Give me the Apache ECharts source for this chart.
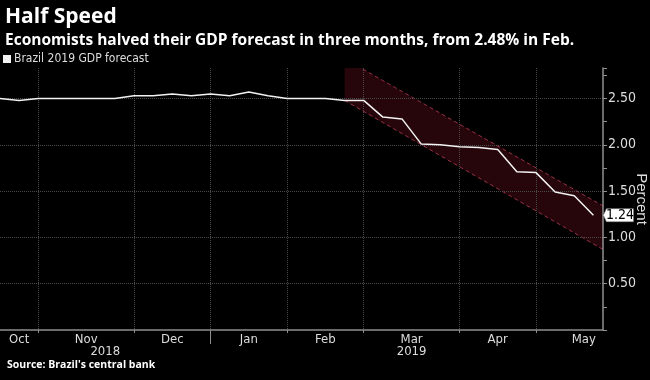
<!DOCTYPE html>
<html><head><meta charset="utf-8">
<script src="https://cdn.jsdelivr.net/npm/echarts@6/dist/echarts.min.js"></script>
<style>html,body{margin:0;padding:0;background:#000}#c{width:650px;height:380px}</style>
</head><body><div id="c"></div>
<script>
// Weekly survey dates (Fridays) and Brazil 2019 GDP forecast (%)
const weeks = ['2018-10-19','2018-10-26','2018-11-02','2018-11-09','2018-11-16','2018-11-23','2018-11-30',
  '2018-12-07','2018-12-14','2018-12-21','2018-12-28','2019-01-04','2019-01-11','2019-01-18','2019-01-25',
  '2019-02-01','2019-02-08','2019-02-15','2019-02-22','2019-03-01','2019-03-08','2019-03-15','2019-03-22','2019-03-29',
  '2019-04-05','2019-04-12','2019-04-19','2019-04-26','2019-05-03','2019-05-10','2019-05-17','2019-05-24'];
const forecast = [2.50,2.48,2.50,2.50,2.50,2.50,2.50,
  2.53,2.53,2.55,2.53,2.55,2.53,2.57,2.53,
  2.50,2.50,2.50,2.48,2.48,2.30,2.28,2.01,2.00,
  1.98,1.97,1.95,1.71,1.70,1.49,1.45,1.24];
// Month labels: first week index of each month and number of weekly points
const months = ['Oct','Nov','Dec','Jan','Feb','Mar','Apr','May'];
const monthStartWeek = [-2,2,7,11,15,19,24,28];
const monthWeekCount = [4,5,4,4,4,5,4,5];
const years = ['2018','2019'];
const yearStartWeek = [0,11];
const yearEndWeek = [11,31.5];
// Shaded downtrend channel: start/end week, lower and upper bounds
const bandWeeks = [18, 31.5];
const bandLower = [2.48, 0.87];
const bandUpper = [2.93, 1.34];
const lastValueLabel = '1.24';

const axisExtentWeeks = 31.5;
const nSlots = axisExtentWeeks * 2 + 1;
const slots = [];
for (let i = 0; i < nSlots; i++) slots.push(weeks[Math.floor(i/2)] + (i % 2 ? ' (mid)' : ''));

const boundarySlots = new Set(monthStartWeek.filter(w => w > 0).map(w => w*2));
const monthLabelAt = new Map();
months.forEach((m, k) => monthLabelAt.set(Math.max(2*monthStartWeek[k] + monthWeekCount[k], 2), m));
const yearLabelAt = new Map();
years.forEach((y, k) => yearLabelAt.set(Math.round(yearStartWeek[k] + yearEndWeek[k]), y));
const yearSepSlot = yearStartWeek[1]*2;

const gray = '#8f8f8f';
const grid = '#4a4a4a';
const narrow = "'Liberation Sans Narrow','DejaVu Sans Condensed','Roboto',sans-serif";
const lastIdx = forecast.length - 1;

const chart = echarts.init(document.getElementById('c'), null, {renderer:'canvas'});
chart.setOption({
  backgroundColor:'#000',
  animation:false,
  title:[
    {text:'Half Speed', left:0, top:2, textStyle:{color:'#fff', fontFamily:'Open Sans', fontWeight:'bold', fontSize:21}},
    {text:'Economists halved their GDP forecast in three months, from 2.48% in Feb.', left:0, top:28,
      textStyle:{color:'#fff', fontFamily:'Open Sans', fontWeight:'bold', fontSize:15.5}},
    {text:"Source: Brazil's central bank", left:2, top:355, textStyle:{color:'#fff', fontFamily:'Open Sans', fontWeight:'bold', fontSize:10.5}}
  ],
  legend:{data:[{name:'Brazil 2019 GDP forecast', icon:'rect'}], left:3, top:53, itemWidth:8, itemHeight:8, itemGap:4, padding:0,
    textStyle:{color:'#ddd', fontFamily:narrow, fontSize:12, padding:[0,0,0,-2]}},
  grid:{left:0, right:47, top:68, bottom:50, containLabel:false, outerBoundsMode:'none'},
  xAxis:[
    {type:'category', data:slots, boundaryGap:false, position:'bottom',
     axisLine:{show:true, onZero:false, lineStyle:{color:gray, width:1.5}},
     axisTick:{show:true, interval:(i)=>boundarySlots.has(i), length:3, lineStyle:{color:gray}},
     axisLabel:{interval:(i)=>monthLabelAt.has(i), formatter:(v,i)=>monthLabelAt.get(i)||'', color:'#ddd', fontFamily:narrow, fontSize:13, margin:3},
     splitLine:{show:true, interval:(i)=>boundarySlots.has(i), lineStyle:{type:'dotted', color:grid}}},
    {type:'category', data:slots, boundaryGap:false, position:'bottom', offset:14,
     axisLine:{show:false},
     axisTick:{show:true, interval:(i)=>i===yearSepSlot, length:14, lineStyle:{color:gray}},
     axisLabel:{interval:(i)=>yearLabelAt.has(i), formatter:(v,i)=>yearLabelAt.get(i)||'', color:'#ddd', fontFamily:narrow, fontSize:13, margin:1},
     splitLine:{show:false}}
  ],
  yAxis:[
    {type:'value', position:'right', min:0, max:2.83, interval:0.5,
     axisLine:{show:true, lineStyle:{color:gray, width:1.5}},
     axisTick:{show:true, length:4, lineStyle:{color:gray}},
     axisLabel:{color:'#ddd', fontFamily:narrow, fontSize:14, margin:5, showMaxLabel:false,
       formatter:(v)=> (v===0 || Math.abs(v*2-Math.round(v*2))>1e-6) ? '' : v.toFixed(2)},
     splitLine:{show:true, showMaxLine:false, showMinLine:false, lineStyle:{type:'dotted', color:grid}},
     name:'Percent', nameLocation:'middle', nameRotate:-90, nameGap:31, nameMoveOverlap:false,
     nameTextStyle:{color:'#ddd', fontFamily:'Liberation Sans', fontSize:15}},
    {type:'value', position:'right', min:0, max:2.83, interval:0.25,
     axisLine:{show:false}, axisLabel:{show:false}, splitLine:{show:false},
     axisTick:{show:true, length:4, lineStyle:{color:gray}}}
  ],
  series:[
    {type:'custom', name:'channel', xAxisIndex:0, yAxisIndex:0, z:-1, silent:true, clip:true,
     encode:{x:[0,1], y:[2,3,4,5]},
     data:[[bandWeeks[0]*2, bandWeeks[1]*2, bandLower[0], bandUpper[0], bandLower[1], bandUpper[1]]],
     renderItem:(params, api)=>{
       const x0 = api.value(0), x1 = api.value(1);
       const a = api.coord([x0, api.value(2)]);
       const b = api.coord([x1, api.value(4)]);
       const c = api.coord([x1, api.value(5)]);
       const d = api.coord([x0, api.value(3)]);
       const cs = params.coordSys;
       const dash = {stroke:'#983247', lineWidth:1, lineDash:[4,3], fill:null};
       return {type:'group',
         clipPath:{type:'rect', shape:{x:cs.x, y:cs.y, width:cs.width, height:cs.height}},
         children:[
           {type:'polygon', shape:{points:[a,b,c,d]}, style:{fill:'#26050b'}},
           {type:'line', shape:{x1:a[0],y1:a[1],x2:b[0],y2:b[1]}, style:dash},
           {type:'line', shape:{x1:d[0],y1:d[1],x2:c[0],y2:c[1]}, style:dash}
         ]};
     }},
    {type:'line', name:'Brazil 2019 GDP forecast', xAxisIndex:0, yAxisIndex:0, z:5,
     data: forecast.map((v,i)=>[i*2, v]), showSymbol:false, symbol:'none',
     lineStyle:{color:'#f2f2f2', width:1.5}, itemStyle:{color:'#f2f2f2'},
     markPoint:{silent:true, symbol:'path://M0,6.5 L3,0 L30,0 L30,13 L3,13 Z', symbolSize:[30,13], symbolOffset:[25,0],
       itemStyle:{color:'#fff', borderColor:'#888', borderWidth:0.5},
       label:{show:true, position:'inside', offset:[1.5,0.5], color:'#000', fontFamily:narrow, fontSize:14, formatter:()=>lastValueLabel},
       data:[{coord:[lastIdx*2, forecast[lastIdx]], value:forecast[lastIdx]}]}}
  ]
});
</script></body></html>
